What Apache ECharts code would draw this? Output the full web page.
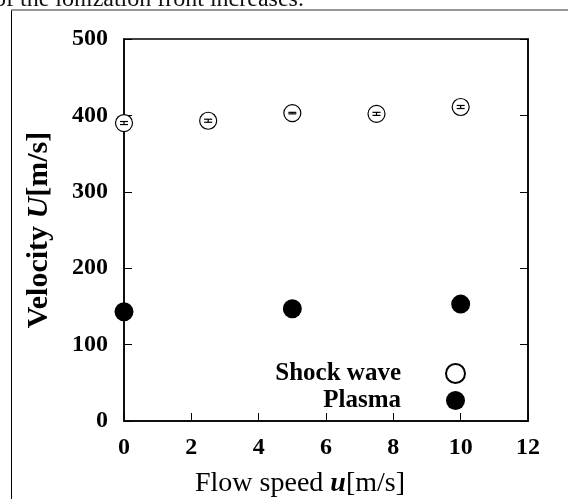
<!DOCTYPE html>
<html>
<head>
<meta charset="utf-8">
<script src="https://cdn.jsdelivr.net/npm/echarts@6/dist/echarts.min.js"></script>
<style>
html,body{margin:0;padding:0;background:#fff;}
#main{width:568px;height:499px;}
</style>
</head>
<body>
<div id="main"></div>
<script>
// Data
var shockX = [0, 2.5, 5, 7.5, 10];
var shockY = [390, 393, 403, 402, 411];
var shockErr = [2, 2, 1, 2, 2];
var plasmaX = [0, 5, 10];
var plasmaY = [143, 147, 153];
var xTicks = [0, 2, 4, 6, 8, 10, 12];
var yTicks = [0, 100, 200, 300, 400, 500];
var seriesNames = ['Shock wave', 'Plasma'];

var FONT = '"Liberation Serif", "Times New Roman", serif';

var shockData = shockX.map(function (x, i) { return [x, shockY[i]]; });
var plasmaData = plasmaX.map(function (x, i) { return [x, plasmaY[i]]; });
var errData = shockX.map(function (x, i) { return [x, shockY[i] - shockErr[i], shockY[i] + shockErr[i]]; });

var chart = echarts.init(document.getElementById('main'), null, {renderer: 'canvas'});

var option = {
  animation: false,
  backgroundColor: '#fff',
  grid: {
    left: 124, right: 40, top: 39, bottom: 78,
    outerBoundsMode: 'none',
    containLabel: false,
    show: true, borderColor: '#000', borderWidth: 1.5, backgroundColor: 'transparent'
  },
  graphic: [
    {type: 'line', shape: {x1: 11.5, y1: 10, x2: 11.5, y2: 499}, style: {stroke: '#000', lineWidth: 1}},
    {type: 'line', shape: {x1: 11, y1: 10, x2: 568, y2: 10}, style: {stroke: '#777', lineWidth: 1.5}},
    {type: 'text', left: -6, top: -12, style: {text: 'of the ionization front increases.', font: '24px ' + FONT, fill: '#111'}}
  ],
  legend: {
    orient: 'vertical',
    align: 'right',
    right: 102,
    top: 361,
    padding: 0,
    itemGap: 2,
    itemWidth: 19,
    itemHeight: 19,
    data: seriesNames,
    textStyle: {fontFamily: FONT, fontWeight: 'bold', fontSize: 25, lineHeight: 25, color: '#000', padding: [0, 40, 0, 0]}
  },
  xAxis: {
    type: 'value',
    min: 0, max: 12, interval: 2,
    name: 'Flow speed {i|u}[m/s]',
    nameLocation: 'middle',
    nameGap: 49,
    nameTextStyle: {
      fontFamily: FONT, fontSize: 28, color: '#000', padding: [0, 52, 0, 0],
      rich: {i: {fontFamily: FONT, fontSize: 28, fontStyle: 'italic', fontWeight: 'bold', color: '#000'}}
    },
    axisLine: {show: true, lineStyle: {color: '#000', width: 1.5}},
    axisTick: {show: true, inside: true, length: 8, lineStyle: {color: '#000', width: 1}},
    axisLabel: {fontFamily: FONT, fontWeight: 'bold', fontSize: 24, color: '#000', margin: 15,
      formatter: function (v) { return xTicks.indexOf(v) >= 0 ? String(v) : ''; }},
    splitLine: {show: false}
  },
  yAxis: [{
    type: 'value',
    min: 0, max: 500, interval: 100,
    name: 'Velocity {i|U}[m/s]',
    nameLocation: 'middle',
    nameRotate: 90,
    nameGap: 70,
    nameTextStyle: {
      fontFamily: FONT, fontSize: 30, fontWeight: 'bold', color: '#000',
      rich: {i: {fontFamily: FONT, fontSize: 30, fontStyle: 'italic', fontWeight: 'bold', color: '#000'}}
    },
    axisLine: {show: true, lineStyle: {color: '#000', width: 1.5}},
    axisTick: {show: true, inside: true, length: 8, lineStyle: {color: '#000', width: 1}},
    axisLabel: {fontFamily: FONT, fontWeight: 'bold', fontSize: 24, color: '#000', margin: 16,
      formatter: function (v) { return yTicks.indexOf(v) >= 0 ? String(v) : ''; }},
    splitLine: {show: false}
  }, {
    type: 'value',
    position: 'right',
    min: 0, max: 500, interval: 100,
    axisLine: {show: true, lineStyle: {color: '#000', width: 1.5}},
    axisTick: {show: true, inside: true, length: 8, lineStyle: {color: '#000', width: 1}},
    axisLabel: {show: false},
    splitLine: {show: false}
  }],
  series: [
    {
      name: seriesNames[0],
      type: 'scatter',
      data: shockData,
      symbol: 'circle',
      symbolSize: 17,
      itemStyle: {color: '#fff', borderColor: '#000', borderWidth: 1.2, opacity: 1},
      z: 3
    },
    {
      name: seriesNames[1],
      type: 'scatter',
      data: plasmaData,
      symbol: 'circle',
      symbolSize: 19,
      itemStyle: {color: '#000', borderColor: '#000', borderWidth: 0, opacity: 1},
      z: 3
    },
    {
      name: 'err',
      type: 'custom',
      data: errData,
      z: 4,
      renderItem: function (params, api) {
        var x = api.value(0);
        var lo = api.coord([x, api.value(1)]);
        var hi = api.coord([x, api.value(2)]);
        var hw = 4;
        var st = {stroke: '#000', lineWidth: 1.2};
        return {
          type: 'group',
          children: [
            {type: 'line', shape: {x1: lo[0], y1: lo[1], x2: hi[0], y2: hi[1]}, style: st},
            {type: 'line', shape: {x1: lo[0] - hw, y1: lo[1], x2: lo[0] + hw, y2: lo[1]}, style: st},
            {type: 'line', shape: {x1: hi[0] - hw, y1: hi[1], x2: hi[0] + hw, y2: hi[1]}, style: st}
          ]
        };
      }
    }
  ]
};
chart.setOption(option);
</script>
</body>
</html>
